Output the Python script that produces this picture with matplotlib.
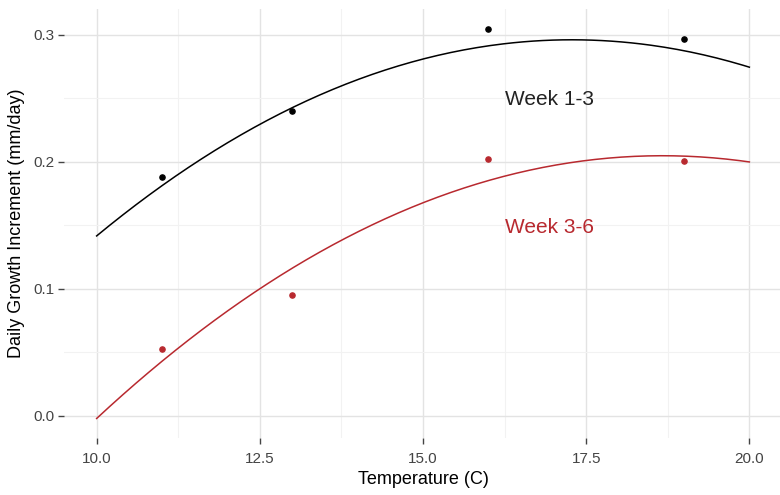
import numpy as np
import matplotlib
matplotlib.use('Agg')
import matplotlib.pyplot as plt

plt.rcParams['font.family'] = ['Liberation Sans', 'DejaVu Sans']

# puntos medidos (temperatura, incremento diario)
temp = [11, 13, 16, 19]
week13 = [0.188, 0.240, 0.305, 0.297]
week36 = [0.053, 0.095, 0.202, 0.201]

# lecturas de las curvas ajustadas
curve_x = [10, 12.5, 15, 17.5, 20]
curve13 = [0.1417, 0.2296, 0.281, 0.296, 0.2746]
curve36 = [-0.002, 0.100, 0.168, 0.201, 0.200]

red = '#b8292f'

fig = plt.figure(figsize=(7.8, 4.95), dpi=100)
ax = fig.add_axes([64/780, 57/495, 718/780, 429/495])

xs = np.linspace(10, 20, 200)
fit13 = np.polyval(np.polyfit(curve_x, curve13, 2), xs)
fit36 = np.polyval(np.polyfit(curve_x, curve36, 2), xs)

ax.plot(xs, fit13, color='black', lw=1.1, zorder=3)
ax.plot(xs, fit36, color=red, lw=1.1, zorder=3)
ax.scatter(temp, week13, s=14, color='black', zorder=4)
ax.scatter(temp, week36, s=14, color=red, zorder=4)

ax.text(16.25, 0.249, 'Week 1-3', fontsize=15, color='#222222', va='center')
ax.text(16.25, 0.148, 'Week 3-6', fontsize=15, color=red, va='center')

ax.set_xlim(9.5, 20.5)
ax.set_ylim(-0.0174, 0.3204)
ax.set_xticks([10.0, 12.5, 15.0, 17.5, 20.0])
ax.set_xticklabels(['10.0', '12.5', '15.0', '17.5', '20.0'])
ax.set_yticks([0.0, 0.1, 0.2, 0.3])
ax.set_yticklabels(['0.0', '0.1', '0.2', '0.3'])
ax.set_xticks([11.25, 13.75, 16.25, 18.75], minor=True)
ax.set_yticks([0.05, 0.15, 0.25], minor=True)

ax.grid(which='major', color='#e3e3e3', lw=1.0)
ax.grid(which='minor', color='#f2f2f2', lw=0.8)
ax.set_axisbelow(True)
for s in ax.spines.values():
    s.set_visible(False)
ax.tick_params(which='major', length=4, width=1, color='#444444',
               labelsize=11, labelcolor='#444444', pad=3)
ax.tick_params(axis='x', which='major', pad=6)
ax.tick_params(which='minor', length=0)

ax.set_xlabel('Temperature (C)', fontsize=13, labelpad=4)
ax.set_ylabel('Daily Growth Increment (mm/day)', fontsize=13, labelpad=6)

fig.savefig('out.png', dpi=100)
